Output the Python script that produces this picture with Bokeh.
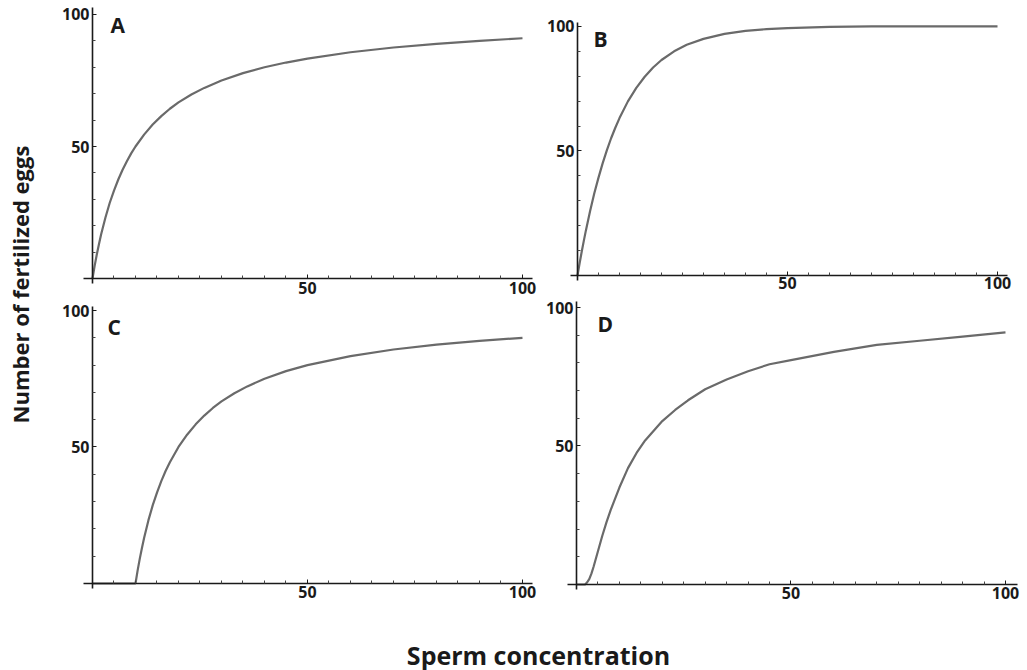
from math import pi
from bokeh.plotting import figure
from bokeh.models import FixedTicker, Label, Range1d
from bokeh.layouts import column, row
from bokeh.embed import file_html
from bokeh.resources import INLINE

# ---- data ----
a_x = [0, 0.5, 1, 1.5, 2, 3, 4, 5, 6, 7, 8, 9, 10, 12, 14, 16, 18, 20, 23, 26, 30, 35, 40, 45, 50, 60, 70, 80, 90, 100]
a_y = [0, 4.8, 9.1, 13, 16.7, 23, 28.6, 33.3, 37.5, 41.2, 44.4, 47.4, 50, 54.5, 58.3, 61.5, 64.3, 66.7, 69.7, 72.2, 75, 77.8, 80, 81.8, 83.3, 85.7, 87.5, 88.9, 90, 91]

b_x = [0, 0.5, 1, 1.5, 2, 3, 4, 5, 6, 7, 8, 9, 10, 12, 14, 16, 18, 20, 23, 26, 30, 35, 40, 45, 50, 60, 70, 80, 90, 100]
b_y = [0, 4.9, 9.5, 13.9, 18.1, 25.9, 33, 39.3, 45.1, 50.3, 55.1, 59.3, 63.2, 69.9, 75.3, 79.8, 83.5, 86.5, 90, 92.6, 95, 97, 98.2, 98.9, 99.3, 99.8, 100, 100, 100, 100]

c_x = [0, 10, 10.5, 11, 11.5, 12, 13, 14, 15, 16, 17, 18, 20, 22, 24, 26, 28, 30, 33, 36, 40, 45, 50, 60, 70, 80, 90, 100]
c_y = [0, 0, 4.8, 9.1, 13, 16.7, 23.1, 28.6, 33.3, 37.5, 41.2, 44.4, 50, 54.5, 58.3, 61.5, 64.3, 66.7, 69.7, 72.2, 75, 77.8, 80, 83.3, 85.7, 87.5, 88.9, 90]

d_x = [0, 2, 2.5, 3, 3.5, 4, 5, 6, 7, 8, 9, 10, 12, 14, 16, 18, 20, 23, 26, 30, 35, 40, 45, 50, 60, 70, 80, 90, 100]
d_y = [0, 0, 0.8, 2, 4, 6.5, 12, 17.5, 22.5, 27, 31, 35, 42, 47.5, 52, 55.5, 59, 63, 66.5, 70.5, 74, 77, 79.5, 81, 84, 86.5, 88, 89.5, 91]

major_ticks = [50, 100]
x_minor = [5, 10, 15, 20, 25, 30, 35, 40, 45, 55, 60, 65, 70, 75, 80, 85, 90, 95]
y_minor = [10, 20, 30, 40, 60, 70, 80, 90]

panel_letters = ["A", "B", "C", "D"]
y_title = "Number of fertilized eggs"
x_title = "Sperm concentration"

FONT = "Open Sans"
INK = "#1a1a1a"
LINE_COLOR = "#6a6a6a"


def panel(w, h, xr, yr, xb, yb, xs, ys, letter, lx, ly, x_standoff=3):
    p = figure(width=w, height=h, x_range=Range1d(*xr), y_range=Range1d(*yr),
               output_backend="svg", toolbar_location=None, min_border=0)
    p.outline_line_color = None
    p.grid.visible = False
    p.background_fill_color = "white"
    p.border_fill_color = "white"
    p.line(xs, ys, line_color=LINE_COLOR, line_width=2.2)

    p.xaxis.fixed_location = 0
    p.yaxis.fixed_location = 0
    p.xaxis.bounds = xb
    p.yaxis.bounds = yb
    p.xaxis.ticker = FixedTicker(ticks=major_ticks, minor_ticks=x_minor)
    p.yaxis.ticker = FixedTicker(ticks=major_ticks, minor_ticks=y_minor)
    for ax in (p.xaxis, p.yaxis):
        ax.axis_line_color = INK
        ax.axis_line_width = 1.6
        ax.major_tick_line_color = INK
        ax.minor_tick_line_color = "#444444"
        ax.major_tick_in = 4
        ax.major_tick_out = 0
        ax.minor_tick_in = 3
        ax.minor_tick_out = 0
        ax.major_label_text_font = FONT
        ax.major_label_text_font_style = "bold"
        ax.major_label_text_font_size = "16px"
        ax.major_label_text_color = INK
        ax.major_label_standoff = 3
    p.xaxis.major_label_standoff = x_standoff
    p.add_layout(Label(x=lx, y=ly, text=letter, text_font=FONT,
                       text_font_style="bold", text_font_size="21px",
                       text_color=INK, text_baseline="middle"))
    return p


pA = panel(480, 300, (-7.44, 104.19), (-8.33, 105.3), (-2.1, 102.3), (-1.9, 102.6),
           a_x, a_y, panel_letters[0], 4.2, 96.2)
pC = panel(480, 330, (-7.44, 104.19), (-17.22, 103.66), (-2.1, 102.3), (-1.8, 101.5),
           c_x, c_y, panel_letters[2], 3.5, 94.1)
pB = panel(487, 297, (-8.81, 107.14), (-8.84, 110.4), (-1.67, 102.4), (-2.0, 101.6),
           b_x, b_y, panel_letters[1], 3.8, 94.8, x_standoff=2)
pD = panel(487, 333, (-8.39, 105.13), (-16.61, 103.61), (-2.1, 102.8), (-1.8, 102.2),
           d_x, d_y, panel_letters[3], 4.9, 93.9)

# y title strip
ty = figure(width=60, height=630, x_range=Range1d(0, 60), y_range=Range1d(0, 630),
            output_backend="svg", toolbar_location=None,
            x_axis_location=None, y_axis_location=None, min_border=0)
ty.outline_line_color = None
ty.grid.visible = False
ty.add_layout(Label(x=19, y=346, text=y_title, angle=pi / 2, text_font=FONT,
                    text_font_style="bold", text_font_size="22px",
                    text_color=INK, text_align="center", text_baseline="middle"))

# x title strip
tx = figure(width=1027, height=40, x_range=Range1d(0, 1027), y_range=Range1d(0, 40),
            output_backend="svg", toolbar_location=None,
            x_axis_location=None, y_axis_location=None, min_border=0)
tx.outline_line_color = None
tx.grid.visible = False
tx.add_layout(Label(x=538, y=16, text=x_title, text_font=FONT,
                    text_font_style="bold", text_font_size="25px",
                    text_color=INK, text_align="center", text_baseline="middle"))

layout = column(row(ty, column(pA, pC), column(pB, pD)), tx)

open("out.html", "w").write(file_html(layout, INLINE))
